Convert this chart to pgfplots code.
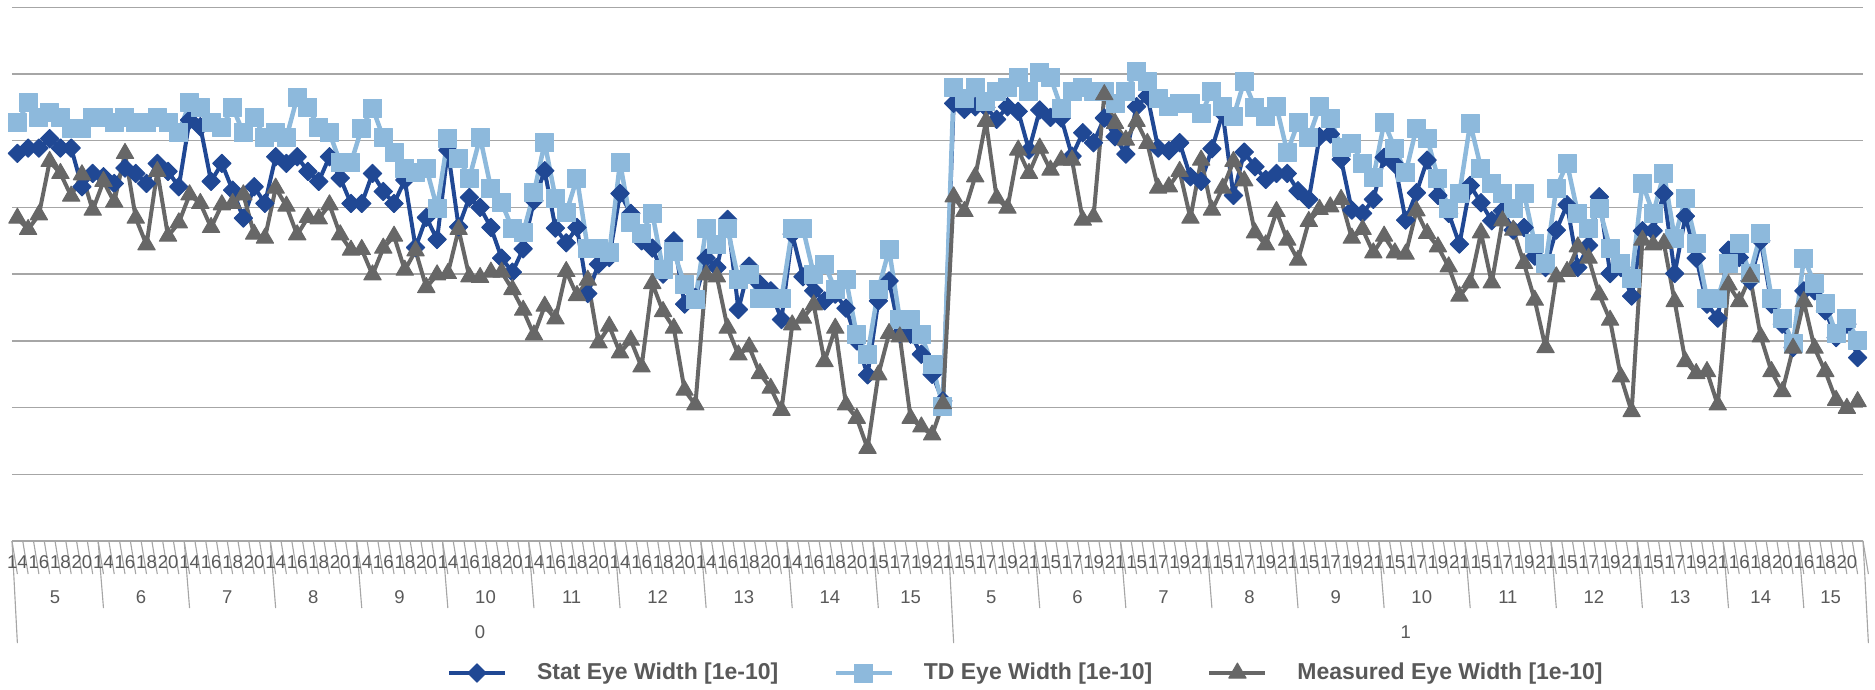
\documentclass[border=0pt]{standalone}
\usepackage{fontspec}
\setmainfont{Liberation Sans}
\usepackage{pgfplots}
\usepackage{pgfplotstable}
\pgfplotsset{compat=1.18}

\definecolor{statblue}{HTML}{204894}
\definecolor{tdblue}{HTML}{8DB9DC}
\definecolor{measgray}{HTML}{676767}
\definecolor{gridgray}{HTML}{A6A6A6}
\definecolor{labelgray}{HTML}{595959}

% eye width per case (index i runs over the three-level category axis)
\pgfplotstableread{
i stat td meas
0 5.81 6.27 4.84
1 5.89 6.57 4.67
2 5.89 6.35 4.89
3 6.03 6.42 5.69
4 5.89 6.35 5.51
5 5.89 6.19 5.17
6 5.31 6.19 5.49
7 5.51 6.35 4.96
8 5.46 6.35 5.39
9 5.36 6.27 5.08
10 5.59 6.35 5.81
11 5.51 6.27 4.84
12 5.36 6.27 4.44
13 5.66 6.35 5.54
14 5.54 6.27 4.57
15 5.31 6.12 4.77
16 6.31 6.57 5.19
17 6.21 6.50 5.06
18 5.39 6.27 4.70
19 5.66 6.20 5.04
20 5.26 6.50 5.06
21 4.84 6.12 5.19
22 5.31 6.35 4.60
23 5.06 6.05 4.54
24 5.76 6.12 5.29
25 5.66 6.05 5.02
26 5.76 6.65 4.59
27 5.54 6.50 4.85
28 5.39 6.20 4.83
29 5.76 6.12 5.04
30 5.44 5.67 4.59
31 5.06 5.67 4.36
32 5.06 6.19 4.37
33 5.51 6.49 3.99
34 5.24 6.05 4.39
35 5.06 5.83 4.57
36 5.41 5.59 4.06
37 4.40 5.53 4.35
38 4.85 5.59 3.80
39 4.52 4.99 3.99
40 5.86 6.04 4.01
41 4.71 5.74 4.67
42 5.15 5.44 3.96
43 5.00 6.05 3.95
44 4.70 5.29 4.03
45 4.24 5.07 4.03
46 4.03 4.68 3.77
47 4.38 4.62 3.46
48 5.10 5.22 3.09
49 5.55 5.97 3.52
50 4.69 5.14 3.33
51 4.47 4.92 4.04
52 4.70 5.44 3.68
53 3.71 4.38 3.91
54 4.15 4.38 2.97
55 4.25 4.32 3.22
56 5.21 5.67 2.82
57 4.91 4.77 3.01
58 4.50 4.61 2.61
59 4.39 4.91 3.86
60 4.00 4.07 3.44
61 4.50 4.34 3.19
62 3.55 3.84 2.26
63 3.65 3.62 2.04
64 4.24 4.68 3.99
65 4.10 4.44 3.96
66 4.82 4.68 3.19
67 3.47 3.92 2.79
68 4.12 4.00 2.91
69 3.85 3.63 2.51
70 3.75 3.63 2.29
71 3.32 3.63 1.96
72 4.60 4.68 3.24
73 3.96 4.68 3.34
74 3.75 4.00 3.54
75 3.60 4.15 2.69
76 3.70 3.77 3.19
77 3.49 3.92 2.04
78 3.00 3.09 1.84
79 2.49 2.79 1.39
80 3.60 3.77 2.49
81 3.90 4.37 3.11
82 3.11 3.32 3.06
83 3.10 3.32 1.84
84 2.80 3.09 1.71
85 2.50 2.64 1.59
86 2.10 2.02 2.06
87 6.56 6.80 5.16
88 6.47 6.64 4.94
89 6.51 6.80 5.46
90 6.50 6.59 6.29
91 6.32 6.74 5.14
92 6.51 6.80 4.99
93 6.44 6.95 5.86
94 5.86 6.74 5.51
95 6.46 7.03 5.89
96 6.35 6.95 5.56
97 6.34 6.49 5.71
98 5.77 6.74 5.71
99 6.12 6.80 4.81
100 5.97 6.74 4.86
101 6.34 6.74 6.69
102 6.06 6.56 6.26
103 5.80 6.74 6.01
104 6.51 7.04 6.29
105 6.67 6.89 5.96
106 5.89 6.64 5.29
107 5.85 6.51 5.31
108 5.97 6.56 5.54
109 5.46 6.56 4.84
110 5.39 6.41 5.71
111 5.88 6.74 4.96
112 6.41 6.51 5.29
113 5.18 6.36 5.69
114 5.83 6.89 5.40
115 5.61 6.50 4.62
116 5.42 6.36 4.44
117 5.51 6.51 4.94
118 5.51 5.83 4.51
119 5.25 6.27 4.21
120 5.12 6.05 4.79
121 6.06 6.51 4.97
122 6.10 6.34 5.01
123 5.72 5.90 5.12
124 4.96 5.96 4.54
125 4.91 5.66 4.67
126 5.12 5.45 4.32
127 5.75 6.27 4.57
128 5.65 5.89 4.32
129 4.81 5.52 4.30
130 5.22 6.19 4.95
131 5.71 6.04 4.61
132 5.18 5.44 4.41
133 4.91 4.99 4.11
134 4.45 5.21 3.67
135 5.33 6.26 3.87
136 5.07 5.59 4.62
137 4.80 5.36 3.87
138 4.95 5.21 4.80
139 4.66 4.99 4.66
140 4.70 5.21 4.16
141 4.27 4.46 3.61
142 4.10 4.16 2.90
143 4.66 5.29 3.96
144 5.04 5.66 4.04
145 4.10 4.91 4.41
146 4.43 4.69 4.24
147 5.16 4.99 3.69
148 4.01 4.39 3.31
149 4.10 4.16 2.46
150 3.67 3.94 1.94
151 4.65 5.36 4.51
152 4.65 4.91 4.44
153 5.21 5.51 4.46
154 4.01 4.54 3.59
155 4.87 5.14 2.69
156 4.24 4.46 2.51
157 3.55 3.64 2.54
158 3.34 3.64 2.04
159 4.36 4.16 3.84
160 4.25 4.46 3.59
161 3.90 4.01 3.96
162 4.50 4.61 3.06
163 3.55 3.64 2.54
164 3.25 3.34 2.24
165 2.90 2.96 2.89
166 3.75 4.24 3.59
167 3.75 3.86 2.89
168 3.45 3.56 2.54
169 3.05 3.11 2.11
170 3.25 3.34 1.99
171 2.75 3.01 2.09
}\eyedata

\newcommand\catfont{\fontsize{7.4}{8.5}\selectfont\color{labelgray}}

\begin{document}
\begin{tikzpicture}
\begin{axis}[
  scale only axis,
  width=740.4pt, height=213.5pt,
  xmin=-0.5, xmax=171.5, ymin=0, ymax=8,
  axis line style={draw=none},
  xtick=\empty,
  ytick={0,...,8}, yticklabel=\empty, ytick style={draw=none},
  ymajorgrids, grid style={gridgray, line width=0.55pt},
  clip=false,
  legend columns=3,
  legend style={draw=none, fill=none, at={(0.2307,-0.2473)}, anchor=west,
    font=\bfseries\fontsize{9.2}{11}\selectfont, text=labelgray,
    nodes={inner sep=0pt},
    /tikz/every odd column/.append style={column sep=12pt},
    /tikz/every even column/.append style={column sep=22pt}},
  legend image code/.code={\draw[#1, mark repeat=2, mark phase=2]
    plot coordinates {(0pt,0pt) (11.2pt,0pt) (22.4pt,0pt)};},
  every axis plot/.append style={line join=round},
]
\addplot[statblue, line width=1.6pt, mark=square*, mark size=2.6pt,
  mark options={rotate=45, line width=0.4pt}] table[x=i, y=stat]{\eyedata};
\addlegendentry{Stat Eye Width [1e-10]}
\addplot[tdblue, line width=1.8pt, mark=square*, mark size=3.6pt,
  mark options={line width=0.4pt}] table[x=i, y=td]{\eyedata};
\addlegendentry{TD Eye Width [1e-10]}
\addplot[measgray, line width=1.6pt, mark=triangle*, mark size=4pt,
  mark options={line width=0.4pt}] table[x=i, y=meas]{\eyedata};
\addlegendentry{Measured Eye Width [1e-10]}

% innermost category ticks
\foreach \k in {0,...,172}{
  \pgfmathsetmacro\xx{\k-0.5}
  \edef\temp{\noexpand\draw[gridgray, line width=0.45pt] (axis cs:\xx,0) -- ++(0,-13.2pt);}\temp}
% middle level separators
\foreach \x in {7.5,15.5,23.5,31.5,39.5,47.5,55.5,63.5,71.5,79.5,94.5,102.5,110.5,118.5,126.5,134.5,142.5,150.5,158.5,165.5}{
  \edef\temp{\noexpand\draw[gridgray, line width=0.45pt] (axis cs:\x,0) -- ++(0,-26.8pt);}\temp}
% outer level separators
\foreach \x in {-0.5,86.5,171.5}{
  \edef\temp{\noexpand\draw[gridgray, line width=0.45pt] (axis cs:\x,0) -- ++(0,-40.8pt);}\temp}

% innermost labels (every second category)
\foreach \b in {0,8,...,72}{
  \foreach \d/\v in {0/14,2/16,4/18,6/20}{
    \pgfmathtruncatemacro\xx{\b+\d}
    \edef\temp{\noexpand\node[font=\noexpand\catfont, inner sep=0pt] at ([yshift=-8.4pt]axis cs:\xx,0) {\v};}\temp}}
\foreach \x/\v in {80/15,82/17,84/19,86/21,160/16,162/18,164/20,166/16,168/18,170/20}{
  \edef\temp{\noexpand\node[font=\noexpand\catfont, inner sep=0pt] at ([yshift=-8.4pt]axis cs:\x,0) {\v};}\temp}
\foreach \b in {87,95,...,151}{
  \foreach \d/\v in {1/15,3/17,5/19,7/21}{
    \pgfmathtruncatemacro\xx{\b+\d}
    \edef\temp{\noexpand\node[font=\noexpand\catfont, inner sep=0pt] at ([yshift=-8.4pt]axis cs:\xx,0) {\v};}\temp}}
% middle labels
\foreach \x/\v in {3.5/5,11.5/6,19.5/7,27.5/8,35.5/9,43.5/10,51.5/11,59.5/12,67.5/13,75.5/14,83/15,
  90.5/5,98.5/6,106.5/7,114.5/8,122.5/9,130.5/10,138.5/11,146.5/12,154.5/13,162/14,168.5/15}{
  \edef\temp{\noexpand\node[font=\noexpand\catfont, inner sep=0pt] at ([yshift=-22.4pt]axis cs:\x,0) {\v};}\temp}
% outer labels
\foreach \x/\v in {43/0,129/1}{
  \edef\temp{\noexpand\node[font=\noexpand\catfont, inner sep=0pt] at ([yshift=-36.4pt]axis cs:\x,0) {\v};}\temp}

\coordinate (ll) at (rel axis cs:0,0);
\coordinate (ur) at (rel axis cs:1,1);
\end{axis}
\pgfresetboundingbox
\path[use as bounding box] ([shift={(-4.8pt,-59.2pt)}]ll) rectangle ([shift={(4.8pt,2.92pt)}]ur);
\end{tikzpicture}
\end{document}
